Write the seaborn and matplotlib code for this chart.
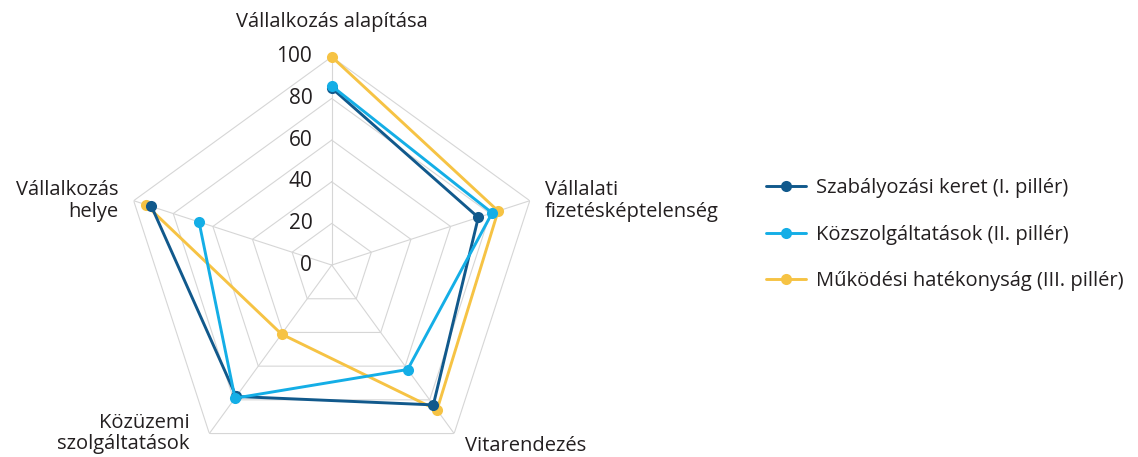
import numpy as np
import matplotlib
matplotlib.use("Agg")
import matplotlib.pyplot as plt
import seaborn as sns

sns.set_theme(style="white")
plt.rcParams['font.family'] = ['Open Sans', 'DejaVu Sans']
plt.rcParams['text.color'] = '#231f20'

# data
categories = ['Vállalkozás alapítása', 'Vállalati\nfizetésképtelenség', 'Vitarendezés',
              'Közüzemi\nszolgáltatások', 'Vállalkozás\nhelye']
series = ['Szabályozási keret (I. pillér)', 'Közszolgáltatások (II. pillér)',
          'Működési hatékonyság (III. pillér)']
szabalyozasi = [85, 74, 83, 78, 91]
kozszolg = [86, 81, 62, 79, 67]
mukodesi = [100, 84, 86, 41, 94]
ticks = [0, 20, 40, 60, 80, 100]

colors = ['#11598c', '#14aee6', '#f6c344']
zorders = [4, 5, 3]
grid_col = '#d6d6d6'

angles = np.linspace(0, 2 * np.pi, len(categories), endpoint=False)
closed = np.append(angles, angles[0])

fig = plt.figure(figsize=(11.38, 4.57), dpi=100)
ax = fig.add_axes([0.1085, -0.0358, 0.366, 0.9116], projection='polar')
ax.set_theta_zero_location('N')
ax.set_theta_direction(-1)
ax.set_ylim(0, 100)
ax.grid(False)
ax.set_xticks([])
ax.set_yticks([])
ax.spines['polar'].set_visible(False)
ax.set_facecolor('none')

# pentagon grid
for t in ticks[1:]:
    ax.plot(closed, [t] * len(closed), color=grid_col, lw=0.8, zorder=1)
for a in angles:
    ax.plot([a, a], [0, 100], color=grid_col, lw=0.8, zorder=1)

# radial tick labels
for t in ticks:
    ax.annotate(str(t), xy=(0, t), xytext=(-14, 0), textcoords='offset points',
                ha='right', va='center', fontsize=15, color='#231f20')

# category labels
offsets = [(0, 25), (11, 0), (8, -9), (-14, 0), (-11, 0)]
aligns = ['center', 'left', 'left', 'right', 'right']
for a, lab, off, ha in zip(angles, categories, offsets, aligns):
    ax.annotate(lab, xy=(a, 100), xytext=off, textcoords='offset points',
                ha=ha, va='center', fontsize=14.5, color='#231f20',
                linespacing=1.12, multialignment=ha)

for name, vals, c, z in zip(series, [szabalyozasi, kozszolg, mukodesi], colors, zorders):
    sns.lineplot(x=closed, y=np.append(vals, vals[0]), ax=ax, color=c, lw=2.1,
                 marker='o', markersize=8, markeredgewidth=0, sort=False,
                 label=name, zorder=z, clip_on=False)

ax.set_xlabel('')
ax.set_ylabel('')
leg = ax.legend(loc='center left', bbox_to_anchor=(0.673, 0.486),
                bbox_transform=fig.transFigure, frameon=False, fontsize=14.5,
                handlelength=2.0, handletextpad=0.5, labelspacing=1.32,
                borderpad=0, borderaxespad=0)

fig.savefig('out.png', dpi=100)
